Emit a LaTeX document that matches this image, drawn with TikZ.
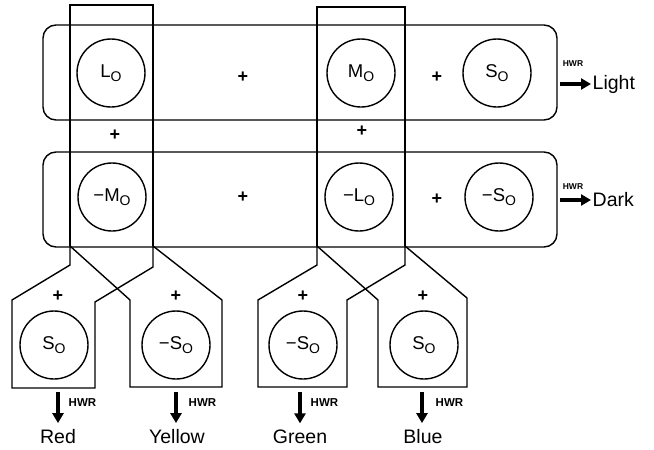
\documentclass[tikz,border=0pt]{standalone}
\usepackage{fontspec}
\setmainfont{Liberation Sans}
\usetikzlibrary{arrows.meta}

\newcommand{\ko}{\raisebox{-3.5pt}{\fontsize{14}{14}\selectfont O}}

\begin{document}
\begin{tikzpicture}[x=1pt, y=-1pt, line width=1.4pt,
    cone/.style={circle, draw, minimum size=68pt, inner sep=0pt, font=\fontsize{18.5}{18.5}\selectfont},
    plus/.style={font=\fontsize{18}{18}\selectfont\bfseries},
    hwr/.style={font=\fontsize{11.5}{11.5}\selectfont\bfseries, inner sep=0pt},
    outlbl/.style={font=\fontsize{19.5}{19.5}\selectfont, inner sep=1pt},
    fat/.style={line width=3.4pt, -{Triangle[length=10pt,width=11pt]}}]
    \useasboundingbox (0,0) rectangle (654,450);

    % Light and Dark rows
    \draw[rounded corners=13pt] (43,25) rectangle (557,120);
    \draw[rounded corners=13pt] (43,152) rectangle (557,247);

    % Vertical L-M and M-L boxes
    \draw (70,246) -- (70,5) -- (153,5) -- (153,246);
    \draw (317,246) -- (317,7) -- (405,7) -- (405,246);

    % Red / Yellow
    \draw (70,246) -- (70,265) -- (12,300) -- (12,388) -- (95,388) -- (95,302) -- (153,267) -- (153,246);
    \draw (70,246) -- (130,300) -- (130,387) -- (222,387) -- (222,300) -- (153,246);

    % Green / Blue
    \draw (317,246) -- (317,265) -- (258,300) -- (258,387) -- (347,387) -- (347,300) -- (405,265) -- (405,246);
    \draw (317,246) -- (378,300) -- (378,387) -- (467,387) -- (467,298) -- (405,246);

    % Cone signals
    \node[cone] (L) at (111,73) {L\ko};
    \node[cone] (M) at (361,73) {M\ko};
    \node[cone] (S) at (497,73) {S\ko};
    \node[cone] (nM) at (112,197) {−M\ko};
    \node[cone] (nL) at (359,197) {−L\ko};
    \node[cone] (nS) at (499,197) {−S\ko};
    \node[cone] (S1) at (54,345) {S\ko};
    \node[cone] (nS1) at (176,345) {−S\ko};
    \node[cone] (nS2) at (303,345) {−S\ko};
    \node[cone] (S2) at (424,345) {S\ko};

    % Plus signs
    \node[plus] (p1) at (243,77) {+};
    \node[plus] (p2) at (437,77) {+};
    \node[plus] (p3) at (115,135) {+};
    \node[plus] (p4) at (362,131) {+};
    \node[plus] (p5) at (243,197) {+};
    \node[plus] (p6) at (437,199) {+};
    \node[plus] (p7) at (58,296) {+};
    \node[plus] (p8) at (176,296) {+};
    \node[plus] (p9) at (303,296) {+};
    \node[plus] (p10) at (423,296) {+};

    % Outputs right
    \node[outlbl, anchor=west] (light) at (591,84) {Light};
    \node[outlbl, anchor=west] (dark) at (591,200) {Dark};
    \coordinate (lt) at (560,84);
    \coordinate (dk) at (560,200);
    \draw[fat] (lt) -- (light.west);
    \draw[fat] (dk) -- (dark.west);
    \node[hwr, font=\fontsize{8.5}{8.5}\selectfont\bfseries] (h1) at (573,64) {HWR};
    \node[hwr, font=\fontsize{8.5}{8.5}\selectfont\bfseries] (h2) at (573,187) {HWR};

    % Outputs below
    \node[outlbl] (red) at (58,437) {Red};
    \node[outlbl] (yellow) at (177,437) {Yellow};
    \node[outlbl] (green) at (300,437) {Green};
    \node[outlbl] (blue) at (423,437) {Blue};
    \coordinate (r0) at (58,392);
    \coordinate (y0) at (176,392);
    \coordinate (g0) at (300,392);
    \coordinate (b0) at (422,392);
    \draw[fat] (r0) -- ([yshift=5pt]red.north);
    \draw[fat] (y0) -- ([yshift=5pt, xshift=-1pt]yellow.north);
    \draw[fat] (g0) -- ([yshift=5pt]green.north);
    \draw[fat] (b0) -- ([yshift=5pt, xshift=-1pt]blue.north);
    \node[hwr, anchor=west] (h3) at (68,403) {HWR};
    \node[hwr, anchor=west] (h4) at (188,403) {HWR};
    \node[hwr, anchor=west] (h5) at (310,403) {HWR};
    \node[hwr, anchor=west] (h6) at (435,403) {HWR};

\end{tikzpicture}
\end{document}
